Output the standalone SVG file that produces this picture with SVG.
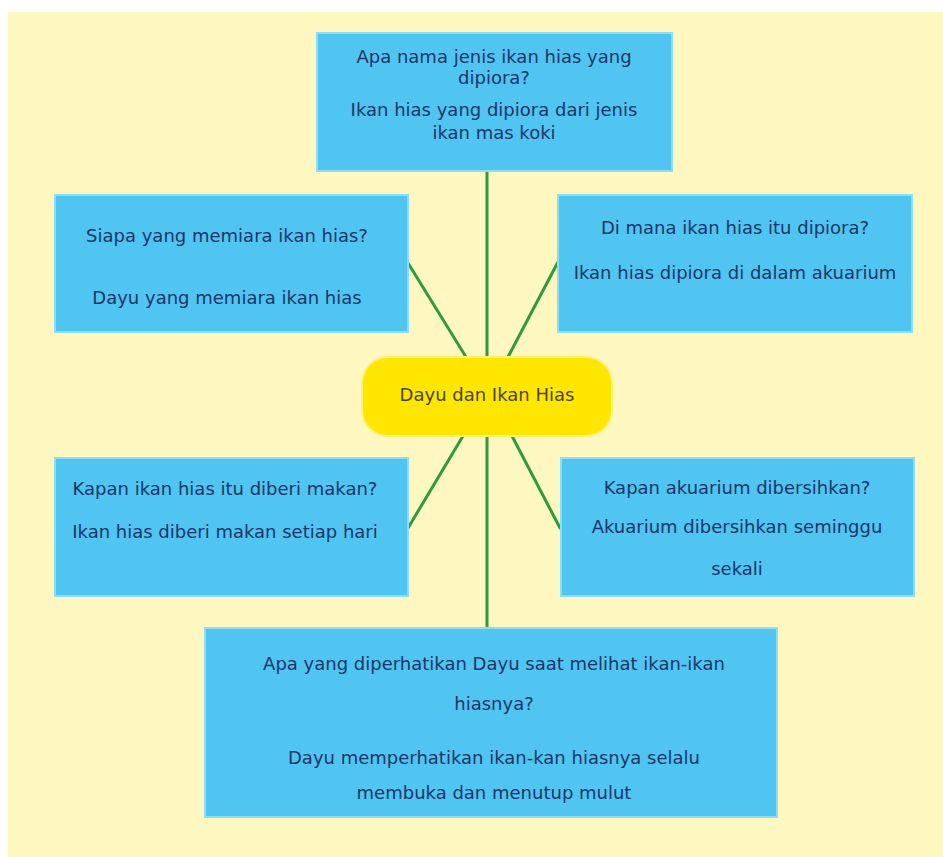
<svg xmlns="http://www.w3.org/2000/svg" width="943" height="857" viewBox="0 0 943 857">
  <defs>
    <style>
      .box { fill: #50C5F2; stroke: #8FDDF3; stroke-width: 2; }
      .hub { fill: #FFE600; stroke: #FFF07A; stroke-width: 2; }
      .t { font-family: "DejaVu Sans", "Liberation Sans", sans-serif; font-size: 18px; fill: #1B3668; text-anchor: middle; }
      .th { font-family: "DejaVu Sans", "Liberation Sans", sans-serif; font-size: 18px; fill: #4A4526; text-anchor: middle; }
      .c { stroke: #2F9A40; stroke-width: 3; fill: none; stroke-linecap: round; }
    </style>
  </defs>
  <rect x="0" y="0" width="943" height="857" fill="#FFFFFF"/>
  <rect x="8" y="12" width="935" height="845" fill="#FFF7C0"/>

  <g id="connectors">
    <line class="c" x1="487" y1="171" x2="487" y2="357"/>
    <line class="c" x1="487" y1="436" x2="487" y2="628"/>
    <line class="c" x1="408" y1="263" x2="466" y2="357"/>
    <line class="c" x1="558" y1="262" x2="508" y2="357"/>
    <line class="c" x1="463" y1="436" x2="408" y2="528"/>
    <line class="c" x1="512" y1="436" x2="560" y2="528"/>
  </g>

  <g id="node-top">
    <rect class="box" x="317" y="33" width="355" height="138"/>
    <text class="t" x="494" y="63">Apa nama jenis ikan hias yang</text>
    <text class="t" x="494" y="84">dipiora?</text>
    <text class="t" x="494" y="116">Ikan hias yang dipiora dari jenis</text>
    <text class="t" x="494" y="139">ikan mas koki</text>
  </g>

  <g id="node-left-top">
    <rect class="box" x="55" y="195" width="353" height="137"/>
    <text class="t" x="227" y="242">Siapa yang memiara ikan hias?</text>
    <text class="t" x="227" y="304">Dayu yang memiara ikan hias</text>
  </g>

  <g id="node-right-top">
    <rect class="box" x="558" y="195" width="354" height="137"/>
    <text class="t" x="735" y="234">Di mana ikan hias itu dipiora?</text>
    <text class="t" x="735" y="279">Ikan hias dipiora di dalam akuarium</text>
  </g>

  <g id="node-center">
    <rect class="hub" x="362" y="357" width="250" height="79" rx="26" ry="26"/>
    <text class="th" x="487" y="401">Dayu dan Ikan Hias</text>
  </g>

  <g id="node-left-bottom">
    <rect class="box" x="55" y="458" width="353" height="138"/>
    <text class="t" x="225" y="495">Kapan ikan hias itu diberi makan?</text>
    <text class="t" x="225" y="538">Ikan hias diberi makan setiap hari</text>
  </g>

  <g id="node-right-bottom">
    <rect class="box" x="561" y="458" width="353" height="138"/>
    <text class="t" x="737" y="494">Kapan akuarium dibersihkan?</text>
    <text class="t" x="737" y="533">Akuarium dibersihkan seminggu</text>
    <text class="t" x="737" y="575">sekali</text>
  </g>

  <g id="node-bottom">
    <rect class="box" x="205" y="628" width="572" height="189"/>
    <text class="t" x="494" y="670">Apa yang diperhatikan Dayu saat melihat ikan-ikan</text>
    <text class="t" x="494" y="710">hiasnya?</text>
    <text class="t" x="494" y="764">Dayu memperhatikan ikan-kan hiasnya selalu</text>
    <text class="t" x="494" y="799">membuka dan menutup mulut</text>
  </g>
</svg>
